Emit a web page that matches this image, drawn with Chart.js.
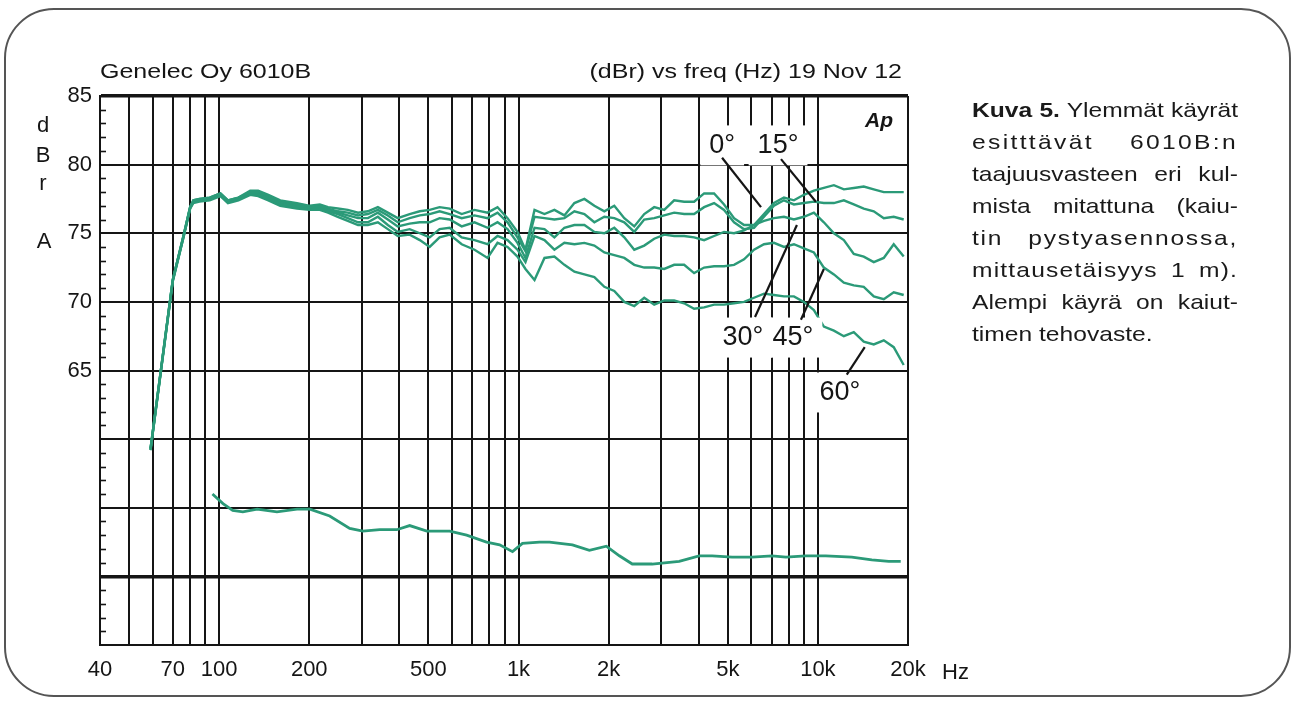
<!DOCTYPE html>
<html>
<head>
<meta charset="utf-8">
<script src="https://cdn.jsdelivr.net/npm/chart.js@4.4.0/dist/chart.umd.min.js"></script>
<style>
  body { margin: 0; background: #fff; }
  #wrap { position: relative; width: 1298px; height: 701px; overflow: hidden; }
  #frame { position: absolute; left: 4px; top: 8px; width: 1287px; height: 689px; border: 2px solid #555; border-radius: 50px; box-sizing: border-box; }
  #chart { position: absolute; left: 0; top: 0; }
  #caption { position: absolute; left: 972px; top: 94px; width: 227px; transform: scaleX(1.172); transform-origin: 0 0;
    font-family: "Liberation Sans", Arial, sans-serif; font-size: 21px; line-height: 32px; color: #1a1a1a; }
  #caption div { text-align: justify; text-align-last: justify; }
  #caption div.last { text-align: left; text-align-last: left; }
</style>
</head>
<body>
<div id="wrap">
  <div id="frame"></div>
  <canvas id="chart" width="1298" height="701"></canvas>
  <div id="caption">
    <div><b>Kuva 5.</b> Ylemmät käyrät</div>
    <div style="letter-spacing:2px">esitttävät 6010B:n</div>
    <div>taajuusvasteen eri kul-</div>
    <div>mista mitattuna (kaiu-</div>
    <div style="letter-spacing:1.5px">tin pystyasennossa,</div>
    <div style="letter-spacing:1px">mittausetäisyys 1 m).</div>
    <div>Alempi käyrä on kaiut-</div>
    <div class="last">timen tehovaste.</div>
  </div>
</div>
<script>
// frequency points (Hz) shared by the five off-axis curves
const freqHz = [59, 70, 76, 80, 82, 86, 93, 101, 107, 116, 127, 135, 146, 160, 182, 201, 217, 231, 249, 269,
  291, 314, 339, 366, 395, 433, 468, 505, 545, 589, 646, 713, 788, 851, 919, 992, 1055, 1131, 1221, 1318,
  1423, 1537, 1660, 1792, 1935, 2089, 2256, 2436, 2630, 2840, 3067, 3311, 3575, 3860, 4169, 4501, 4860, 5248, 5667, 6119,
  6607, 7134, 7703, 8318, 8980, 9698, 10470, 11310, 12210, 13180, 14230, 15370, 16600, 17920, 19350];

// dBr values, one array per measuring angle
const deg0 = [59.3, 71.6, 74.8, 76.9, 77.4, 77.5, 77.6, 77.9, 77.4, 77.6, 78.1, 78.1, 77.8, 77.4, 77.2, 77.0, 77.1, 76.9,
  76.8, 76.7, 76.5, 76.6, 76.9, 76.5, 76.1, 76.4, 76.6, 76.7, 76.9, 76.8, 76.4, 76.7, 76.5, 76.9, 76.1, 75.1, 73.8,
  76.7, 76.4, 76.7, 76.3, 77.2, 77.5, 77.0, 76.6, 77.0, 76.1, 75.5, 76.4, 76.9, 76.7, 77.4, 77.3, 77.3, 77.9, 77.9,
  77.1, 76.1, 75.6, 75.6, 76.4, 77.2, 77.6, 77.4, 77.8, 78.1, 78.3, 78.5, 78.2, 78.3, 78.4, 78.2, 78.0, 78.0, 78.0];
const deg15 = [59.3, 71.6, 74.8, 76.9, 77.4, 77.5, 77.6, 77.9, 77.4, 77.6, 78.0, 78.0, 77.7, 77.3, 77.1, 76.9, 77.0, 76.8,
  76.6, 76.5, 76.3, 76.4, 76.7, 76.3, 75.8, 76.1, 76.3, 76.4, 76.6, 76.4, 76.1, 76.3, 76.1, 76.5, 75.8, 74.7, 73.7,
  76.2, 76.1, 76.0, 76.1, 76.6, 76.4, 75.8, 76.2, 76.1, 75.8, 75.1, 76.0, 76.1, 76.3, 76.5, 76.4, 76.4, 76.9, 77.2,
  76.7, 75.8, 75.3, 75.4, 76.2, 77.0, 77.4, 77.1, 77.2, 77.3, 77.2, 77.2, 77.4, 77.1, 76.8, 76.6, 76.1, 76.2, 76.0];
const deg30 = [59.3, 71.6, 74.8, 76.9, 77.3, 77.4, 77.5, 77.8, 77.3, 77.5, 77.9, 77.9, 77.6, 77.2, 77.0, 76.9, 76.9, 76.7,
  76.5, 76.3, 76.1, 76.1, 76.5, 76.0, 75.5, 75.7, 75.8, 75.8, 76.1, 76.0, 75.5, 75.8, 75.4, 75.8, 75.3, 74.3, 73.2,
  75.4, 75.3, 74.7, 75.4, 75.6, 75.6, 75.1, 75.0, 75.4, 74.7, 73.8, 74.1, 74.6, 74.9, 74.8, 74.8, 74.7, 74.5, 74.8,
  75.1, 75.0, 75.2, 75.6, 75.9, 76.1, 76.2, 76.0, 76.2, 76.5, 75.8, 75.0, 74.5, 73.5, 73.3, 72.9, 73.2, 74.2, 73.3];
const deg45 = [59.2, 71.5, 74.7, 76.8, 77.3, 77.4, 77.5, 77.8, 77.3, 77.5, 77.9, 77.8, 77.5, 77.1, 76.9, 76.8, 76.8, 76.6,
  76.4, 76.1, 75.8, 75.8, 76.2, 75.6, 75.1, 75.3, 75.0, 74.7, 75.3, 75.4, 74.7, 74.5, 74.2, 74.8, 74.5, 73.8, 72.9,
  74.8, 74.5, 73.8, 74.3, 74.2, 74.3, 74.1, 73.6, 73.4, 73.2, 72.7, 72.5, 72.5, 72.4, 72.7, 72.7, 72.1, 72.5, 72.6,
  72.6, 72.7, 73.1, 73.8, 74.2, 74.3, 74.0, 74.2, 73.9, 73.6, 72.5, 72.0, 71.4, 71.2, 71.1, 70.4, 70.2, 70.7, 70.5];
const deg60 = [59.2, 71.5, 74.7, 76.8, 77.2, 77.3, 77.4, 77.7, 77.2, 77.4, 77.8, 77.7, 77.4, 77.0, 76.8, 76.7, 76.7, 76.5,
  76.2, 75.9, 75.6, 75.6, 75.8, 75.3, 74.8, 74.9, 74.5, 74.0, 74.7, 74.9, 74.2, 73.8, 73.2, 74.3, 74.0, 73.3, 72.4,
  71.6, 73.2, 73.3, 72.7, 72.2, 72.0, 71.8, 71.1, 70.8, 70.0, 69.7, 70.3, 69.8, 70.1, 70.1, 69.9, 69.5, 69.6, 69.8,
  69.8, 69.9, 70.0, 70.3, 70.6, 70.5, 70.4, 70.4, 70.0, 69.4, 68.2, 67.9, 67.5, 67.8, 67.1, 66.9, 67.2, 66.7, 65.4];

// lower curve: power response
const powerHz = [95, 103, 111, 120, 134, 156, 182, 201, 234, 273, 302, 344, 392, 433, 494, 589, 671, 782, 865, 955,
  1031, 1175, 1269, 1514, 1725, 1965, 2172, 2399, 2797, 3441, 4012, 4433, 5169, 6026, 7027, 7822, 9120, 10630,
  12980, 15140, 17250, 18910];
const powerDb = [56.0, 55.3, 54.8, 54.7, 54.9, 54.7, 54.9, 54.9, 54.4, 53.5, 53.3, 53.4, 53.4, 53.7, 53.3, 53.3, 53.0,
  52.5, 52.3, 51.8, 52.4, 52.5, 52.5, 52.3, 51.9, 52.2, 51.5, 50.9, 50.9, 51.1, 51.5, 51.5, 51.4, 51.4, 51.5, 51.4,
  51.5, 51.5, 51.4, 51.2, 51.1, 51.1];

// axes
const xGridHz = [40, 50, 60, 70, 80, 90, 100, 200, 300, 400, 500, 600, 700, 800, 900,
  1000, 2000, 3000, 4000, 5000, 6000, 7000, 8000, 9000, 10000, 20000];
const xTickHz = [40, 70, 100, 200, 500, 1000, 2000, 5000, 10000, 20000];
const xTickLabels = ["40", "70", "100", "200", "500", "1k", "2k", "5k", "10k", "20k"];
const yTickLabels = [65, 70, 75, 80, 85];

// angle annotations (label position and leader line, in Hz / dBr)
const angleText = ["0°", "15°", "30°", "45°", "60°"];
const angleHz = [4790, 7360, 5620, 8250, 11840];
const angleDb = [81.4, 81.4, 67.4, 67.4, 63.4];
const leaderFrom = [[4786, 80.5], [7530, 80.4], [6166, 68.9], [8777, 68.7], [12490, 64.7]];
const leaderTo = [[6457, 76.9], [9848, 77.3], [8511, 75.6], [10470, 72.4], [14340, 66.7]];

const green = "#2b9a78";
const ink = "#151515";
const FONT = '"Liberation Sans", Arial, sans-serif';

function stretchText(ctx, text, x, y, align, sx) {
  ctx.save();
  ctx.translate(x, y);
  ctx.scale(sx, 1);
  ctx.textAlign = align;
  ctx.fillText(text, 0, 0);
  ctx.restore();
}

const decor = {
  id: "decor",
  beforeDatasetsDraw(chart) {
    const { ctx, chartArea, scales } = chart;
    // small 1 dB ticks inside the left edge
    ctx.save();
    ctx.strokeStyle = ink;
    ctx.lineWidth = 1.6;
    for (let v = 46; v < 85; v++) {
      if (v % 5 === 0) continue;
      const y = Math.round(scales.y.getPixelForValue(v)) + 0.5;
      ctx.beginPath();
      ctx.moveTo(chartArea.left, y);
      ctx.lineTo(chartArea.left + 6, y);
      ctx.stroke();
    }
    ctx.restore();
  },
  afterDatasetsDraw(chart) {
    const { ctx, scales } = chart;
    const sx = scales.x, sy = scales.y;
    ctx.save();
    ctx.font = "27px " + FONT;
    ctx.textBaseline = "middle";
    ctx.textAlign = "center";
    angleText.forEach((t, i) => {
      const x = sx.getPixelForValue(angleHz[i]);
      const y = sy.getPixelForValue(angleDb[i]);
      const w = ctx.measureText(t).width;
      ctx.fillStyle = "#fff";
      ctx.fillRect(x - w / 2 - 9, y - 20, w + 18, 40);
    });
    ctx.strokeStyle = ink;
    ctx.lineWidth = 2.2;
    leaderFrom.forEach((p, i) => {
      ctx.beginPath();
      ctx.moveTo(sx.getPixelForValue(p[0]), sy.getPixelForValue(p[1]));
      ctx.lineTo(sx.getPixelForValue(leaderTo[i][0]), sy.getPixelForValue(leaderTo[i][1]));
      ctx.stroke();
    });
    ctx.fillStyle = ink;
    angleText.forEach((t, i) => {
      ctx.fillText(t, sx.getPixelForValue(angleHz[i]), sy.getPixelForValue(angleDb[i]));
    });
    ctx.restore();
  },
  afterDraw(chart) {
    const { ctx, chartArea } = chart;
    ctx.save();
    ctx.fillStyle = ink;
    ctx.textBaseline = "alphabetic";
    ctx.font = "21px " + FONT;
    stretchText(ctx, "Genelec Oy 6010B", chartArea.left, 78, "left", 1.19);
    stretchText(ctx, "(dBr) vs freq (Hz) 19 Nov 12", chartArea.right - 6, 78, "right", 1.19);
    ctx.font = "22px " + FONT;
    ctx.textAlign = "center";
    ctx.fillText("d", 43, 132);
    ctx.fillText("B", 43, 162);
    ctx.fillText("r", 43, 190);
    ctx.fillText("A", 44, 248);
    ctx.textAlign = "left";
    ctx.fillText("Hz", 942, 679);
    ctx.font = "italic bold 21px " + FONT;
    ctx.textAlign = "right";
    ctx.fillText("Ap", chartArea.right - 15, chartArea.top + 31);
    ctx.restore();
  }
};

const toPoints = (xs, ys) => xs.map((f, i) => ({ x: f, y: ys[i] }));
const curve = (label, ys, w) => ({
  label: label, data: toPoints(freqHz, ys), borderColor: green, borderWidth: w,
  pointRadius: 0, tension: 0, fill: false
});

new Chart(document.getElementById("chart"), {
  type: "line",
  data: {
    datasets: [
      curve("0°", deg0, 2.4),
      curve("15°", deg15, 2.4),
      curve("30°", deg30, 2.4),
      curve("45°", deg45, 2.4),
      curve("60°", deg60, 2.4),
      { label: "Tehovaste", data: toPoints(powerHz, powerDb), borderColor: green, borderWidth: 2.8,
        pointRadius: 0, tension: 0, fill: false }
    ]
  },
  options: {
    responsive: false,
    animation: false,
    devicePixelRatio: 1,
    layout: { padding: { left: 0, top: 96, right: 390, bottom: 0 } },
    plugins: { legend: { display: false }, tooltip: { enabled: false } },
    scales: {
      x: {
        type: "logarithmic",
        min: 40,
        max: 20000,
        afterBuildTicks: s => { s.ticks = xGridHz.map(v => ({ value: v })); },
        afterFit: s => { s.height = 56; },
        ticks: {
          autoSkip: false, maxRotation: 0, padding: 12, color: ink,
          font: { family: FONT, size: 22 },
          callback: v => {
            const i = xTickHz.indexOf(v);
            return i < 0 ? "" : xTickLabels[i];
          }
        },
        grid: { color: ink, lineWidth: 2, drawTicks: false },
        border: { color: ink, width: 2 }
      },
      y: {
        min: 45,
        max: 85,
        afterFit: s => { s.width = 100; },
        ticks: {
          stepSize: 5, padding: 8, color: ink,
          font: { family: FONT, size: 22 },
          callback: v => (yTickLabels.includes(v) ? String(v) : "")
        },
        grid: {
          color: ink,
          lineWidth: c => (c.tick && (c.tick.value === 85 || c.tick.value === 50) ? 3.6 : 2),
          drawTicks: false
        },
        border: { color: ink, width: 2 }
      }
    }
  },
  plugins: [decor]
});
</script>
</body>
</html>
